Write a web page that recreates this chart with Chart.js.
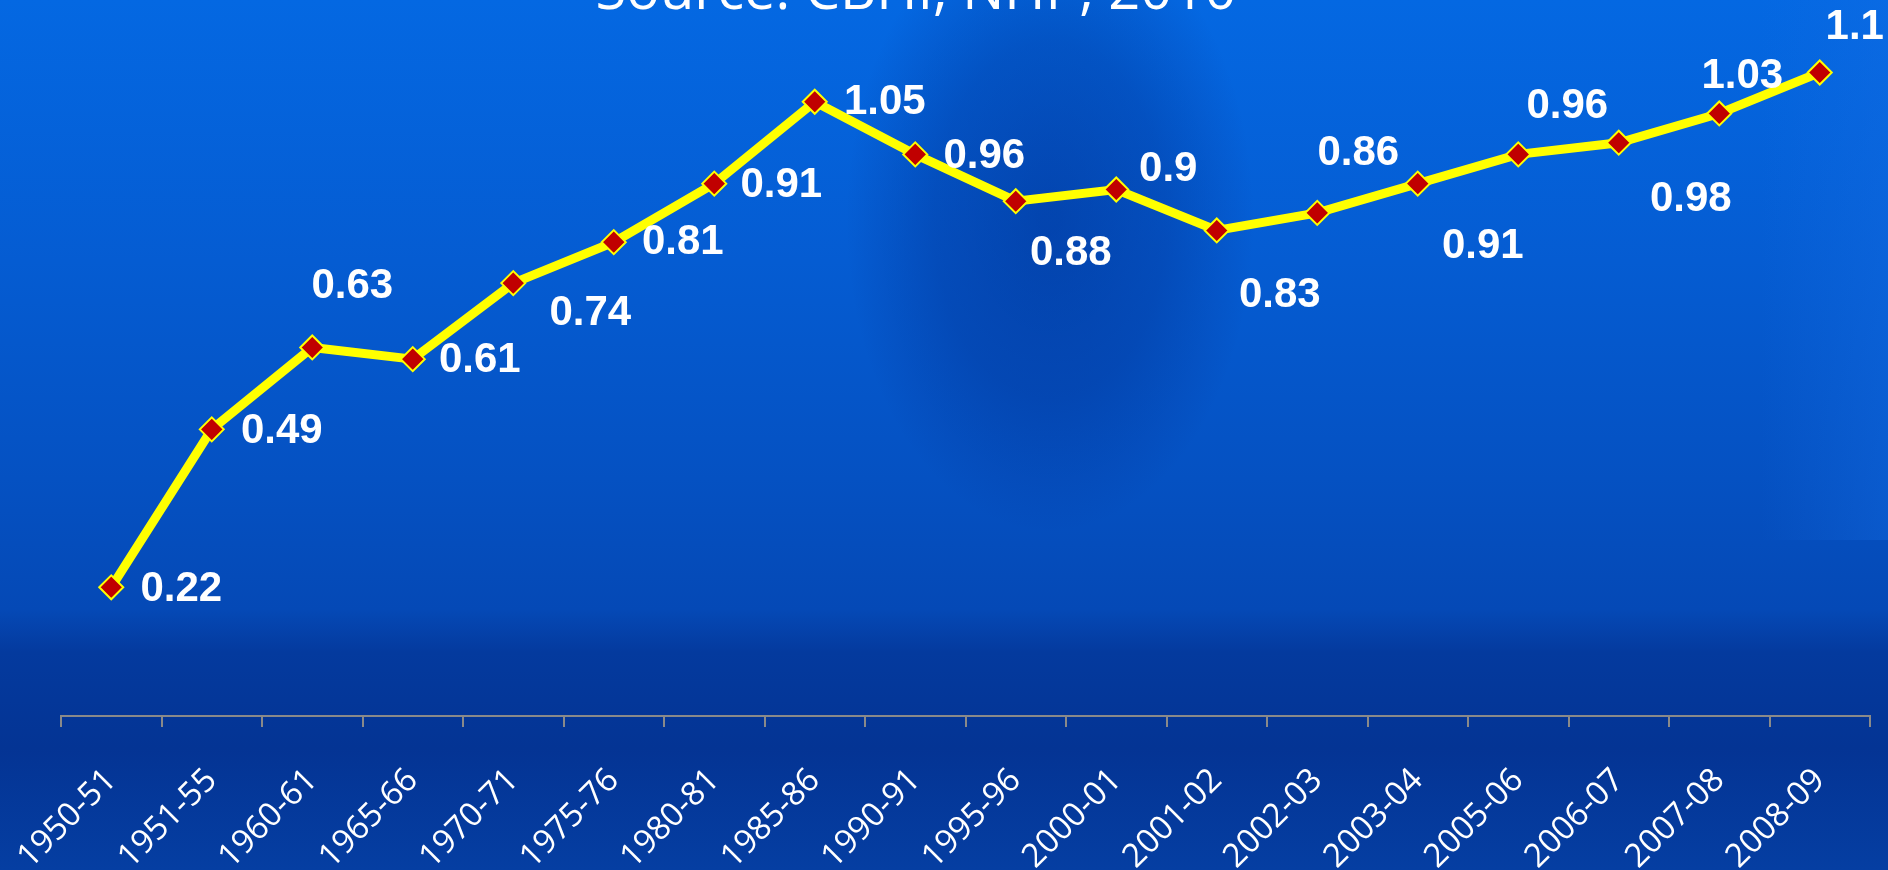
<!DOCTYPE html>
<html>
<head>
<meta charset="utf-8">
<script src="https://cdn.jsdelivr.net/npm/chart.js@4.4.1/dist/chart.umd.min.js"></script>
<style>
  html, body { margin: 0; padding: 0; background: #0650c0; }
  #wrap { width: 1888px; height: 870px; position: relative; }
</style>
</head>
<body>
<div id="wrap"><canvas id="growthChart"></canvas></div>
<script>
const years = ['1950-51', '1951-55', '1960-61', '1965-66', '1970-71', '1975-76', '1980-81', '1985-86',
  '1990-91', '1995-96', '2000-01', '2001-02', '2002-03', '2003-04', '2005-06', '2006-07', '2007-08', '2008-09'];
const values = [0.22, 0.49, 0.63, 0.61, 0.74, 0.81, 0.91, 1.05, 0.96, 0.88, 0.9, 0.83, 0.86, 0.91, 0.96, 0.98, 1.03, 1.1];
const sourceText = 'Source: CBHI, NHP, 2010';

// where each value label sits, relative to its point (px)
const labelShift = [
  [70, 2], [70, 2], [40, -61], [67, 1], [77, 30], [69, 0], [67, 2], [70, 1], [69, 2],
  [55, 52], [52, -20], [63, 65], [41, -59], [65, 63], [49, -48], [72, 57], [23, -37], [35, -45]
];

const backdrop = {
  id: 'backdrop',
  beforeDraw(chart) {
    const c = chart.ctx, w = chart.width, h = chart.height;
    c.save();
    let g = c.createLinearGradient(0, 0, 0, h);
    g.addColorStop(0, '#0468e2');
    g.addColorStop(0.3, '#055cd2');
    g.addColorStop(0.55, '#0551c2');
    g.addColorStop(0.7, '#0549b6');
    g.addColorStop(0.75, '#043a9e');
    g.addColorStop(0.86, '#043494');
    g.addColorStop(1, '#053ea2');
    c.fillStyle = g;
    c.fillRect(0, 0, w, h);
    // darker building shape in the middle
    c.save();
    c.translate(1050, 220);
    c.scale(0.85, 1.3);
    let b = c.createRadialGradient(0, 0, 10, 0, 0, 240);
    b.addColorStop(0, 'rgba(0,28,115,0.38)');
    b.addColorStop(0.55, 'rgba(0,28,115,0.25)');
    b.addColorStop(1, 'rgba(0,28,115,0)');
    c.fillStyle = b;
    c.fillRect(-260, -260, 520, 520);
    c.restore();
    // brighter strip at the right edge
    let r = c.createLinearGradient(1760, 0, 1888, 0);
    r.addColorStop(0, 'rgba(20,110,230,0)');
    r.addColorStop(1, 'rgba(20,110,230,0.35)');
    c.fillStyle = r;
    c.fillRect(1760, 0, 128, 540);
    // title, cut by the top edge
    c.fillStyle = '#ffffff';
    c.font = '56px "Open Sans"';
    c.textAlign = 'center';
    c.textBaseline = 'alphabetic';
    c.fillText(sourceText, 916, 9);
    c.restore();
  }
};

const valueLabels = {
  id: 'valueLabels',
  afterDatasetsDraw(chart) {
    const c = chart.ctx;
    const pts = chart.getDatasetMeta(0).data;
    c.save();
    c.fillStyle = '#ffffff';
    c.font = 'bold 42px "Liberation Sans", Arial, sans-serif';
    c.textAlign = 'center';
    c.textBaseline = 'middle';
    pts.forEach((p, i) => {
      const s = labelShift[i];
      c.fillText(String(values[i]), p.x + s[0], p.y + s[1]);
    });
    c.restore();
  }
};

const ctx = document.getElementById('growthChart').getContext('2d');
const chart = new Chart(ctx, {
  type: 'line',
  data: {
    labels: years,
    datasets: [{
      data: values,
      borderColor: '#ffff00',
      borderWidth: 9,
      pointStyle: 'rectRot',
      pointRadius: 12,
      pointHoverRadius: 12,
      pointBackgroundColor: '#c00000',
      pointBorderColor: '#ffff00',
      pointBorderWidth: 2,
      tension: 0
    }]
  },
  options: {
    responsive: true,
    maintainAspectRatio: false,
    animation: false,
    layout: { padding: { left: 61, right: 18, top: 5, bottom: 0 } },
    plugins: {
      legend: { display: false },
      tooltip: { enabled: false }
    },
    scales: {
      y: { display: false, min: 0, max: 1.2 },
      x: {
        offset: true,
        afterFit(scale) {
          scale.height = 154;
          scale.paddingLeft = 0;
          scale.paddingRight = 0;
        },
        border: { display: true, color: '#8a8a8a', width: 2 },
        grid: { offset: true, drawOnChartArea: false, drawTicks: true, tickLength: 11, color: '#8a8a8a', lineWidth: 2 },
        ticks: {
          color: '#ffffff',
          font: { family: '"Open Sans"', size: 33 },
          minRotation: 45,
          maxRotation: 45,
          padding: 34,
          autoSkip: false
        }
      }
    }
  },
  plugins: [backdrop, valueLabels]
});
</script>
</body>
</html>
